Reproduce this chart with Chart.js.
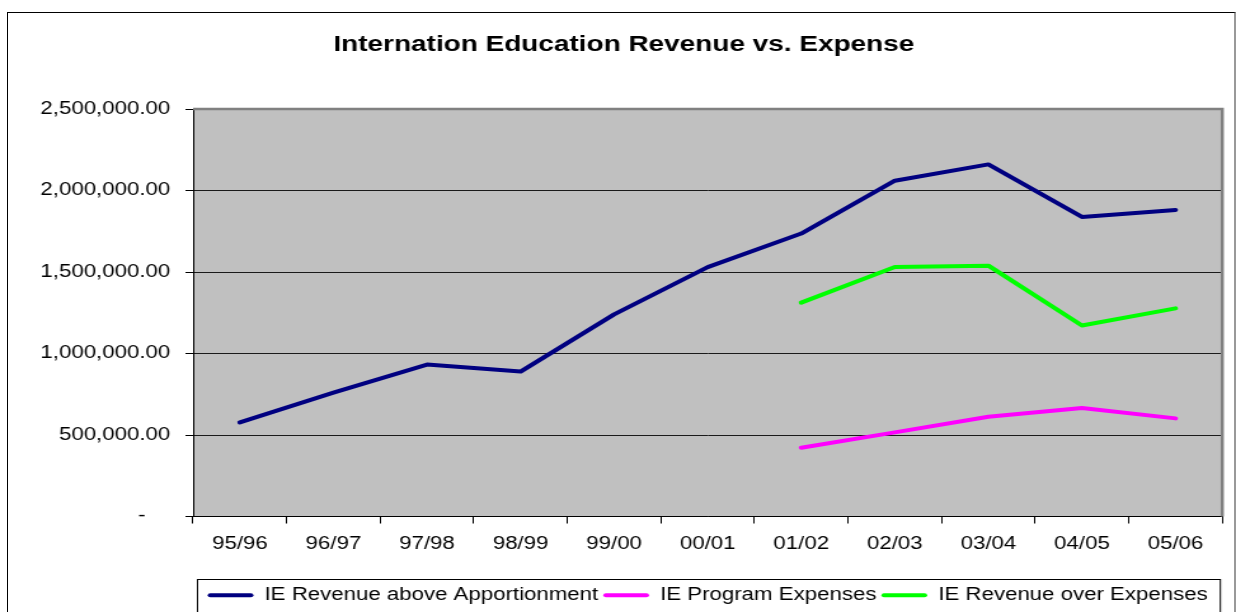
<!DOCTYPE html>
<html>
<head>
<meta charset="utf-8">
<script src="https://cdn.jsdelivr.net/npm/chart.js@4.4.1/dist/chart.umd.min.js"></script>
<style>
  html, body { margin: 0; padding: 0; background: #fff; overflow: hidden; width: 1236px; height: 612px; }
  #frame { position: absolute; left: 7px; top: 12px; width: 1226px; height: 700px;
           border-left: 1px solid #000; border-top: 1px solid #000; border-right: 2px solid #999; }
  #c { position: absolute; left: 0; top: 0; }
</style>
</head>
<body>
<div id="frame"></div>
<canvas id="c" width="973" height="612" style="width:1236px;height:612px;"></canvas>
<script>
const categories = ['95/96','96/97','97/98','98/99','99/00','00/01','01/02','02/03','03/04','04/05','05/06'];
const revenueAboveApportionment = [577000, 760000, 932000, 889000, 1240000, 1530000, 1736000, 2060000, 2160000, 1838000, 1880000];
const programExpenses = [null, null, null, null, null, null, 422000, 516000, 612000, 666000, 602000];
const revenueOverExpenses = [null, null, null, null, null, null, 1312000, 1531000, 1539000, 1172000, 1277000];
const seriesNames = ['IE Revenue above Apportionment', 'IE Program Expenses', 'IE Revenue over Expenses'];
const titleText = 'Internation Education Revenue vs. Expense';

const FONT = "'Liberation Sans', Arial, sans-serif";

const plotBg = {
  id: 'plotBg',
  afterLayout(chart) {
    if (chart.titleBlock) { chart.titleBlock.left += 10; chart.titleBlock.right += 10; }
  },
  beforeDraw(chart) {
    const {ctx, chartArea: a} = chart;
    ctx.save();
    ctx.fillStyle = '#C0C0C0';
    ctx.fillRect(a.left, a.top, a.right - a.left, a.bottom - a.top);
    ctx.restore();
  },
  beforeDatasetsDraw(chart) {
    const {ctx, chartArea: a} = chart;
    ctx.save();
    ctx.strokeStyle = '#808080';
    ctx.lineWidth = 2.5;
    ctx.beginPath();
    ctx.moveTo(a.left, a.top);
    ctx.lineTo(a.right, a.top);
    ctx.lineTo(a.right, a.bottom);
    ctx.stroke();
    ctx.restore();
  },
  afterDraw(chart) {
    const {ctx, chartArea: a, legend} = chart;
    ctx.save();
    ctx.strokeStyle = '#000';
    ctx.lineWidth = 1;
    ctx.strokeRect(a.left + 3.5, Math.round(legend.top - 3.5) + 0.5, a.right - a.left - 5, 100);
    ctx.restore();
  }
};

new Chart(document.getElementById('c'), {
  type: 'line',
  data: {
    labels: categories,
    datasets: [
      { label: seriesNames[0], data: revenueAboveApportionment, borderColor: '#000080', backgroundColor: '#000080' },
      { label: seriesNames[1], data: programExpenses, borderColor: '#FF00FF', backgroundColor: '#FF00FF' },
      { label: seriesNames[2], data: revenueOverExpenses, borderColor: '#00FF00', backgroundColor: '#00FF00' }
    ]
  },
  options: {
    responsive: false,
    animation: false,
    devicePixelRatio: 1,
    layout: { padding: { left: 0, right: 10.8, top: 0, bottom: -2 } },
    elements: {
      line: { borderWidth: 4, tension: 0, borderCapStyle: 'round', borderJoinStyle: 'round', fill: false },
      point: { radius: 0, hoverRadius: 0 }
    },
    plugins: {
      title: {
        display: true, text: titleText, color: '#000',
        font: { family: FONT, size: 22, weight: 'bold' },
        padding: { top: 31.3, bottom: 51.3 }
      },
      legend: {
        display: true, position: 'bottom', fullSize: false,
        labels: {
          color: '#000', font: { family: FONT, size: 17.5 },
          boxWidth: 36, boxHeight: 4, padding: 4,
          generateLabels(chart) {
            const items = Chart.defaults.plugins.legend.labels.generateLabels(chart);
            items.forEach(it => { it.lineWidth = 0; it.borderRadius = 2; });
            return items;
          }
        }
      },
      tooltip: { enabled: false }
    },
    scales: {
      x: {
        type: 'category', offset: true,
        afterFit(scale) { scale.height = 66; },
        grid: { display: true, drawOnChartArea: false, drawTicks: true, offset: true, tickLength: 7, tickColor: '#000' },
        border: { display: true, color: '#000', width: 1 },
        ticks: { color: '#000', font: { family: FONT, size: 17.5 }, padding: 10, maxRotation: 0, autoSkip: false }
      },
      y: {
        min: 0, max: 2500000,
        afterFit(scale) { scale.width = 152; },
        grid: { display: true, color: '#1a1a1a', lineWidth: 1, drawTicks: true, tickLength: 6, tickColor: '#000' },
        border: { display: true, color: '#000', width: 1 },
        ticks: {
          stepSize: 500000, color: '#000', font: { family: FONT, size: 17.5 }, padding: 12,
          callback(v) {
            if (v === 0) return '-    ';
            return v.toLocaleString('en-US', { minimumFractionDigits: 2, maximumFractionDigits: 2 });
          }
        }
      }
    }
  },
  plugins: [plotBg]
});
</script>
</body>
</html>
